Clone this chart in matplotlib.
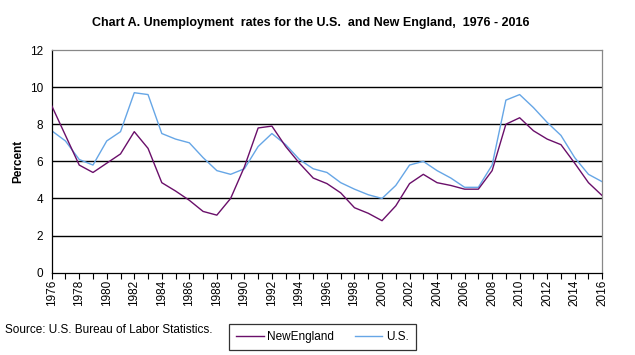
import matplotlib.pyplot as plt
from matplotlib.lines import Line2D

years = list(range(1976, 2017))
new_england = [9.0, 7.4, 5.8, 5.4, 5.9, 6.4, 7.6, 6.7, 4.85, 4.4,
               3.9, 3.3, 3.1, 4.0, 5.7, 7.8, 7.9, 6.8, 5.9, 5.1,
               4.8, 4.3, 3.5, 3.2, 2.8, 3.6, 4.8, 5.3, 4.85, 4.7,
               4.5, 4.5, 5.5, 8.0, 8.35, 7.65, 7.2, 6.9, 5.9, 4.85,
               4.15]
us = [7.65, 7.1, 6.1, 5.8, 7.1, 7.6, 9.7, 9.6, 7.5, 7.2,
      7.0, 6.2, 5.5, 5.3, 5.6, 6.8, 7.5, 6.9, 6.1, 5.6,
      5.4, 4.85, 4.5, 4.2, 4.0, 4.7, 5.8, 6.0, 5.5, 5.1,
      4.6, 4.6, 5.8, 9.3, 9.6, 8.9, 8.1, 7.4, 6.2, 5.3,
      4.9]

plt.rcParams['font.family'] = ['Liberation Sans', 'DejaVu Sans']

fig = plt.figure(figsize=(6.35, 3.55), dpi=100)
ax = fig.add_axes([0.0814, 0.232, 0.867, 0.627])

ne_col = '#6a0f6a'
us_col = '#66a6e6'

for v in range(2, 12, 2):
    ax.axhline(v, color='black', lw=1.0, zorder=1)

ax.plot(years, new_england, color=ne_col, lw=1.0, zorder=3)
ax.plot(years, us, color=us_col, lw=1.0, zorder=2)

ax.set_xlim(1976, 2016)
ax.set_ylim(0, 12)
ax.set_yticks(range(0, 13, 2))
ax.set_xticks(range(1976, 2017, 2))
ax.set_xticks(range(1976, 2017), minor=True)
ax.tick_params(axis='x', which='both', direction='out', length=4, width=0.8,
               labelsize=8.5, rotation=90, pad=1)
ax.tick_params(axis='y', length=0, labelsize=8.5, pad=6)

ax.spines['left'].set_color('black')
ax.spines['bottom'].set_color('black')
ax.spines['top'].set_color('#888888')
ax.spines['right'].set_color('#888888')
for s in ax.spines.values():
    s.set_linewidth(0.9)

ax.set_ylabel('Percent', fontsize=8.5, fontweight='bold', labelpad=4)

fig.text(0.49, 0.935, 'Chart A. Unemployment  rates for the U.S.  and New England,  1976 - 2016',
         ha='center', va='center', fontsize=9, fontweight='bold')
fig.text(0.008, 0.07, 'Source: U.S. Bureau of Labor Statistics.', fontsize=8.5,
         va='center', ha='left')

handles = [Line2D([], [], color=ne_col, lw=1.0), Line2D([], [], color=us_col, lw=1.0)]
leg = fig.legend(handles, ['NewEngland', 'U.S.'], loc='center',
                 bbox_to_anchor=(0.508, 0.05), ncol=2, fontsize=8.5,
                 frameon=True, fancybox=False, handlelength=2.3,
                 handletextpad=0.3, columnspacing=1.8, borderpad=0.6)
leg.get_frame().set_edgecolor('black')
leg.get_frame().set_linewidth(0.9)

fig.savefig('out.png', dpi=100)
